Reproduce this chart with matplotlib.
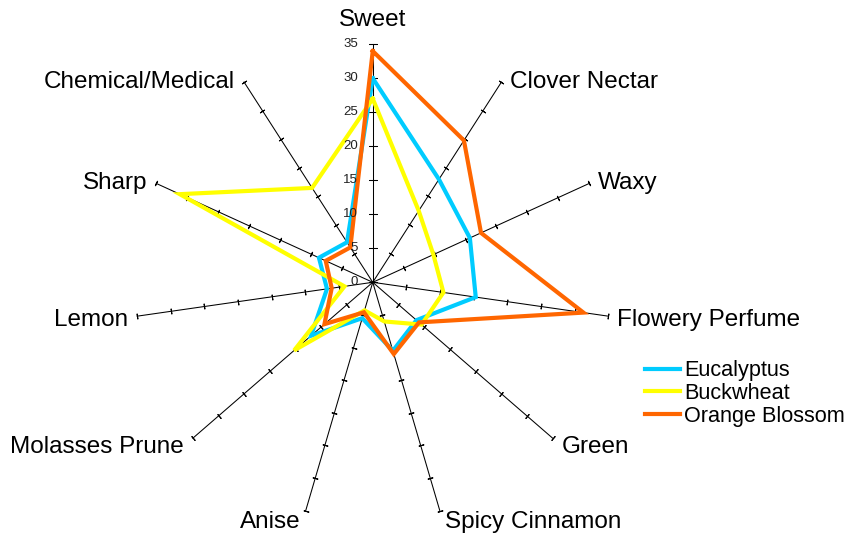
import numpy as np
import matplotlib
matplotlib.use("Agg")
import matplotlib.pyplot as plt

plt.rcParams["font.family"] = ["Liberation Sans", "DejaVu Sans"]

categories = [
    "Sweet", "Clover Nectar", "Waxy", "Flowery Perfume", "Green",
    "Spicy Cinnamon", "Anise", "Molasses Prune", "Lemon", "Sharp",
    "Chemical/Medical",
]
eucalyptus = [30, 18, 15.7, 15.3, 8.5, 10.5, 5.5, 12, 6.8, 8.7, 7]
buckwheat = [27, 12.5, 9.8, 10.5, 9.5, 6, 4.3, 15.3, 4.2, 31.2, 16.5]
orange_blossom = [34, 24.8, 17.5, 31.3, 9, 11, 4.6, 9.4, 6.1, 7.6, 6.1]
series_names = ["Eucalyptus", "Buckwheat", "Orange Blossom"]
series_colors = ["#00CCFF", "#FFFF00", "#FF6600"]
scale_ticks = [0, 5, 10, 15, 20, 25, 30, 35]

PX = 0.72  # points per pixel at dpi 100

fig = plt.figure(figsize=(8.49, 5.37), dpi=100)
ax = fig.add_axes([0.1587, 0.0311, 0.5607, 0.8864], projection="polar")
ax.set_theta_offset(np.pi / 2)
ax.set_theta_direction(-1)
ax.set_ylim(0, 35)
ax.grid(False)
ax.set_xticks([])
ax.set_yticks([])
ax.spines["polar"].set_visible(False)
ax.patch.set_visible(False)

n = len(categories)
thetas = np.arange(n) * 2 * np.pi / n
rmax = scale_ticks[-1]

# spokes with small cross ticks
for i, t in enumerate(thetas):
    ax.plot([t, t], [0, rmax], color="black", lw=0.75, clip_on=False)
    phi = 90 - np.degrees(t)
    radii = scale_ticks if i == 0 else scale_ticks[1:]
    ax.plot([t] * len(radii), radii, linestyle="none",
            marker=(2, 2, phi), ms=6 if i == 0 else 4,
            mew=0.75, color="black", clip_on=False)

# scale labels on the Sweet axis
for v in scale_ticks:
    ax.annotate(str(v), xy=(0, v), xytext=(-10.5, 0), textcoords="offset points",
                ha="right", va="center", fontsize=9.5, color="#222222")

# series
for vals, name, col in zip([eucalyptus, buckwheat, orange_blossom], series_names, series_colors):
    ax.plot(np.append(thetas, thetas[0]), vals + vals[:1], color=col, lw=3,
            label=name, solid_joinstyle="miter", clip_on=False)

# category labels
for name, t in zip(categories, thetas):
    phi = np.pi / 2 - t
    c, s = np.cos(phi), np.sin(phi)
    if abs(c) < 0.05:
        dx, dy, ha = 0, 24, "center"
    else:
        ha = "left" if c > 0 else "right"
        dx = np.sign(c) * (5.5 if abs(c) < 0.4 else 9)
        dy = min(s, 0) * 10 - (2 if s < 0 else 0)
    ax.annotate(name, xy=(t, rmax), xytext=(dx * PX, dy * PX),
                textcoords="offset points", ha=ha, va="center", fontsize=17.5)

ax.legend(loc="upper left", bbox_to_anchor=(0.7597, 0.3287),
          bbox_transform=fig.transFigure, frameon=False, fontsize=15.6,
          handlelength=1.61, handletextpad=0.18, borderpad=0,
          borderaxespad=0, labelspacing=0.07)

fig.savefig("out.png", dpi=100)
